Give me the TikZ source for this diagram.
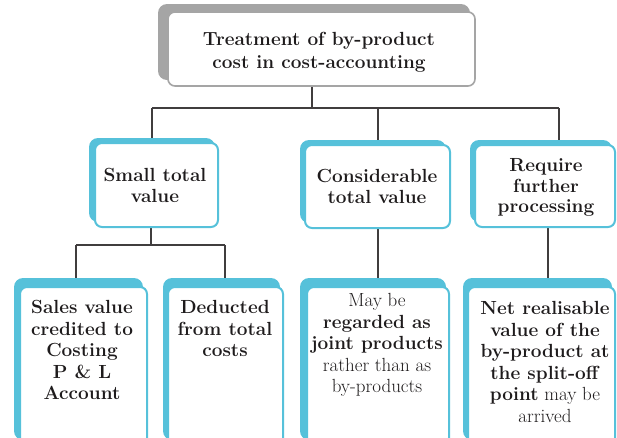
\documentclass[tikz,border=0pt]{standalone}
\usetikzlibrary{fit}
\definecolor{boxcyan}{RGB}{86,193,218}
\definecolor{backgray}{RGB}{165,165,165}
\definecolor{txt}{RGB}{30,27,28}
\pgfdeclarelayer{lines}
\pgfdeclarelayer{backs}
\pgfsetlayers{lines,backs,main}
\tikzset{
  frontbox/.style={draw=boxcyan, line width=2pt, fill=white, rounded corners=7pt, inner sep=0pt},
  backbox/.style={fill=boxcyan, rounded corners=9pt, inner sep=0pt},
  topfront/.style={frontbox, draw=backgray, line width=1.6pt},
  topback/.style={backbox, fill=backgray},
  lbl/.style={align=center, font=\fontsize{19}{21.5}\selectfont, text=txt, inner sep=0pt, anchor=north},
  conn/.style={draw=txt!85, line width=1.2pt}
}
\begin{document}
\begin{tikzpicture}[x=1pt,y=-1pt]
\useasboundingbox (0,0) rectangle (617,437);
\clip (0,0) rectangle (617,437);
% front boxes
\node[topfront, fit={(168,12) (475,86)}] (top) {};
\node[frontbox, fit={(95,143) (218,227)}] (small) {};
\node[frontbox, fit={(305,145) (450,228)}] (cons) {};
\node[frontbox, fit={(475,145) (615,227)}] (req) {};
\node[frontbox, fit={(20,287) (147,445)}] (sales) {};
\node[frontbox, fit={(168,287) (283,445)}] (ded) {};
\node[frontbox, fit={(307,287) (449,445)}] (may) {};
\node[frontbox, fit={(468,287) (615,445)}] (net) {};
% back shapes
\begin{pgfonlayer}{backs}
\node[topback, fit={(158,4) (470,80)}] (topb) {};
\node[backbox, fit={(89,138) (215,222)}] (smallb) {};
\node[backbox, fit={(300,140) (446,223)}] (consb) {};
\node[backbox, fit={(470,140) (612,222)}] (reqb) {};
\node[backbox, fit={(14,278) (143,440)}] (salesb) {};
\node[backbox, fit={(163,278) (280,440)}] (dedb) {};
\node[backbox, fit={(300,278) (446,440)}] (mayb) {};
\node[backbox, fit={(463,278) (612,440)}] (netb) {};
\end{pgfonlayer}
% texts
\node[lbl, font=\fontsize{19}{23}\selectfont\bfseries] (topt) at (319,31.5) {Treatment of by-product\\cost in cost-accounting};
\node[lbl, font=\fontsize{19}{21}\selectfont\bfseries] (smallt) at (155,168.5) {Small total\\value};
\node[lbl, font=\fontsize{19}{20.5}\selectfont\bfseries] (const) at (377,169.5) {Considerable\\total value};
\node[lbl, font=\fontsize{19}{20.5}\selectfont\bfseries] (reqt) at (546,158.5) {Require\\further\\processing};
\node[lbl, font=\fontsize{19}{21.5}\selectfont\bfseries] (salest) at (82,300.5) {Sales value\\credited to\\Costing\\P \& L\\Account};
\node[lbl, font=\fontsize{19}{21.5}\selectfont\bfseries] (dedt) at (225,300.5) {Deducted\\from total\\costs};
\node[lbl] (mayt) at (377,293.5) {May be\\\textbf{regarded as}\\\textbf{joint products}\\rather than as\\by-products};
\node[lbl] (nett) at (545,301.5) {\textbf{Net realisable}\\\textbf{value of the}\\\textbf{by-product at}\\\textbf{the split-off}\\\textbf{point} may be\\arrived};
% connectors
\coordinate (j0) at (312,108);
\coordinate (jl) at (152,108);
\coordinate (jm) at (378,108);
\coordinate (jr) at (559,108);
\coordinate (k0) at (151,245);
\coordinate (kl) at (76,245);
\coordinate (kr) at (225,245);
\coordinate (cm) at (378,250);
\coordinate (cr) at (548,250);
\begin{pgfonlayer}{lines}
\draw[conn] (top.south -| j0) -- (j0);
\draw[conn] (jl) -- (jr);
\draw[conn] (jl) -- (jl |- smallb.north);
\draw[conn] (jm) -- (jm |- consb.north);
\draw[conn] (jr) -- (jr |- reqb.north);
\draw[conn] (small.south -| k0) -- (k0);
\draw[conn] (kl) -- (kr);
\draw[conn] (kl) -- (kl |- salesb.north);
\draw[conn] (kr) -- (kr |- dedb.north);
\draw[conn] (cons.south -| cm) -- (cm |- mayb.north);
\draw[conn] (req.south -| cr) -- (cr |- netb.north);
\end{pgfonlayer}
\end{tikzpicture}
\end{document}
